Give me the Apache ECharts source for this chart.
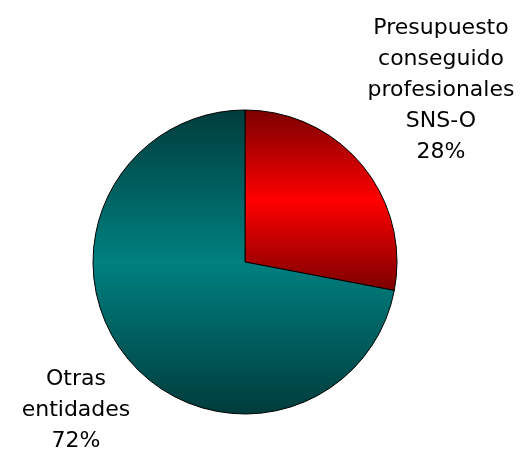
<!DOCTYPE html>
<html>
<head>
<meta charset="utf-8">
<script src="https://cdn.jsdelivr.net/npm/echarts@6/dist/echarts.min.js"></script>
<style>
  html, body { margin: 0; padding: 0; background: #fff; }
  #chart { width: 522px; height: 454px; }
</style>
</head>
<body>
<div id="chart"></div>
<script>
const names = ['Presupuesto\nconseguido\nprofesionales\nSNS-O', 'Otras\nentidades']
const values = [28, 72]

const gradients = [
  ['#7a0000', '#ff0000'],
  ['#003c3c', '#008080']
]

const myChart = echarts.init(document.getElementById('chart'))

myChart.setOption({
  animation: false,
  series: [
    {
      type: 'pie',
      center: [245, 262],
      radius: 152,
      startAngle: 90,
      clockwise: true,
      data: names.map(function(n, i) {
        return {
          name: n,
          value: values[i],
          itemStyle: {
            color: new echarts.graphic.LinearGradient(0, 0, 0, 1, [
              { offset: 0, color: gradients[i][0] },
              { offset: 0.5, color: gradients[i][1] },
              { offset: 1, color: gradients[i][0] }
            ])
          }
        }
      }),
      itemStyle: {
        borderColor: '#000',
        borderWidth: 1
      },
      label: {
        show: true,
        position: 'outside',
        formatter: '{b}\n{d}%',
        fontFamily: 'DejaVu Sans',
        fontSize: 22,
        lineHeight: 31,
        color: '#000',
        align: 'center',
        overflow: 'none',
        width: 200
      },
      labelLine: { show: false },
      labelLayout: function(params) {
        // place labels like the original
        if (params.dataIndex === 0) {
          return { x: 441, y: 90, align: 'center', verticalAlign: 'middle' }
        }
        return { x: 76, y: 410, align: 'center', verticalAlign: 'middle' }
      }
    }
  ]
})
</script>
</body>
</html>
